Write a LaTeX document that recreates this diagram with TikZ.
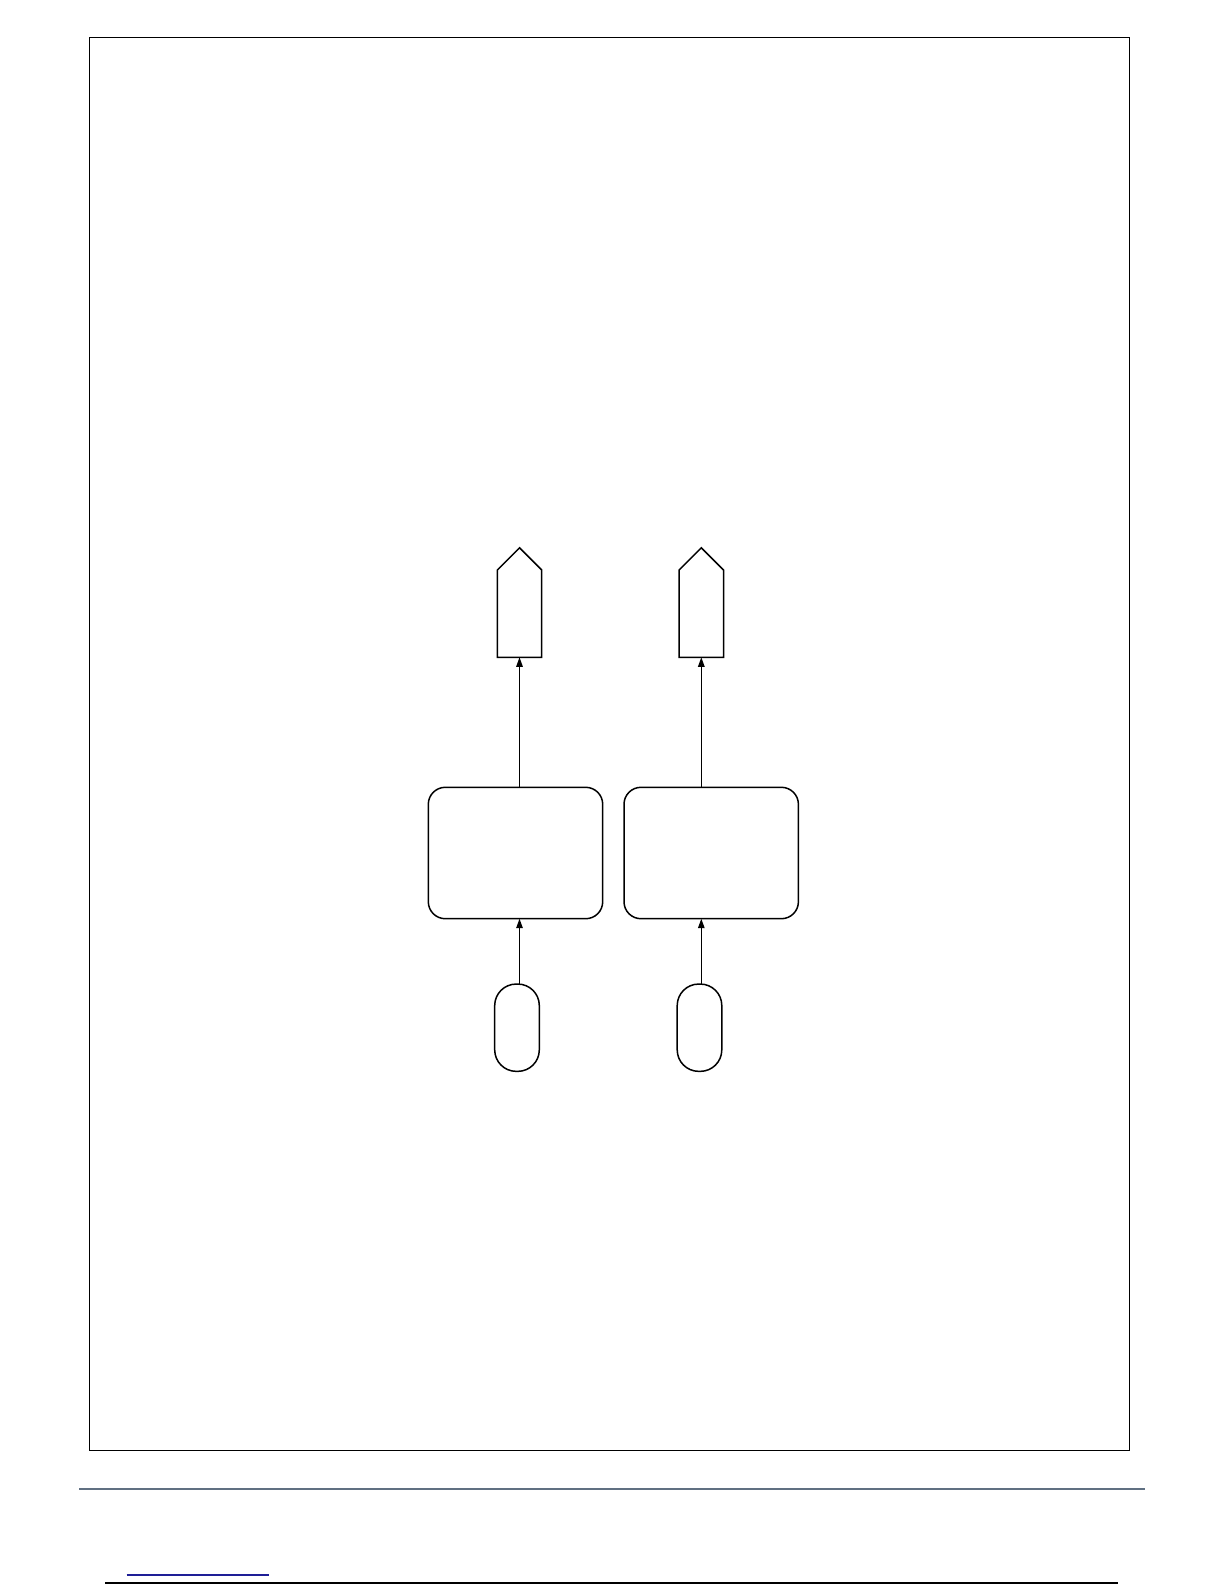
\documentclass[tikz,border=0pt]{standalone}
\usetikzlibrary{arrows.meta,shapes.symbols}
\definecolor{rulegray}{RGB}{96,112,130}
\definecolor{linkblue}{RGB}{30,30,150}
\begin{document}
\begin{tikzpicture}[x=1pt,y=-1pt,
  base/.style={draw=black,line width=1.5pt,inner sep=0pt,outer sep=0pt},
  procbox/.style={base,rectangle,rounded corners=17pt,minimum width=174.4pt,minimum height=131.4pt},
  startoval/.style={base,rectangle,rounded corners=21.5pt,minimum width=44.6pt,minimum height=87.3pt},
  outsig/.style={base,signal,signal to=north,signal from=nowhere,signal pointer angle=90,minimum width=44.4pt,minimum height=87.3pt},
  conn/.style={line width=1.3pt,-{Triangle[length=9.5pt,width=6.5pt]}}]
\useasboundingbox (0,0) rectangle (1224,1584);
\fill[white] (0,0) rectangle (1224,1584);
% frame
\draw[line width=1.2pt] (89.3,37.3) rectangle (1129.7,1450.3);
% nodes
\node[outsig] (p1) at (519.5,613.65) {};
\node[outsig] (p2) at (701.3,613.65) {};
\node[procbox] (b1) at (515.5,853) {};
\node[procbox] (b2) at (711.2,853) {};
\node[startoval] (o1) at (517,1027.7) {};
\node[startoval] (o2) at (699.5,1027.7) {};
% connectors
\draw[conn] (o1.north -| p1.south) -- (b1.south -| p1.south);
\draw[conn] (o2.north -| p2.south) -- (b2.south -| p2.south);
\draw[conn] (b1.north -| p1.south) -- (p1.south);
\draw[conn] (b2.north -| p2.south) -- (p2.south);
% page rules
\draw[rulegray,line width=1.5pt] (79,1489) -- (1145,1489);
\draw[linkblue,line width=1.3pt] (126.7,1575) -- (269,1575);
\draw[black,line width=1.6pt] (105,1582.8) -- (1118,1582.8);
\end{tikzpicture}
\end{document}
